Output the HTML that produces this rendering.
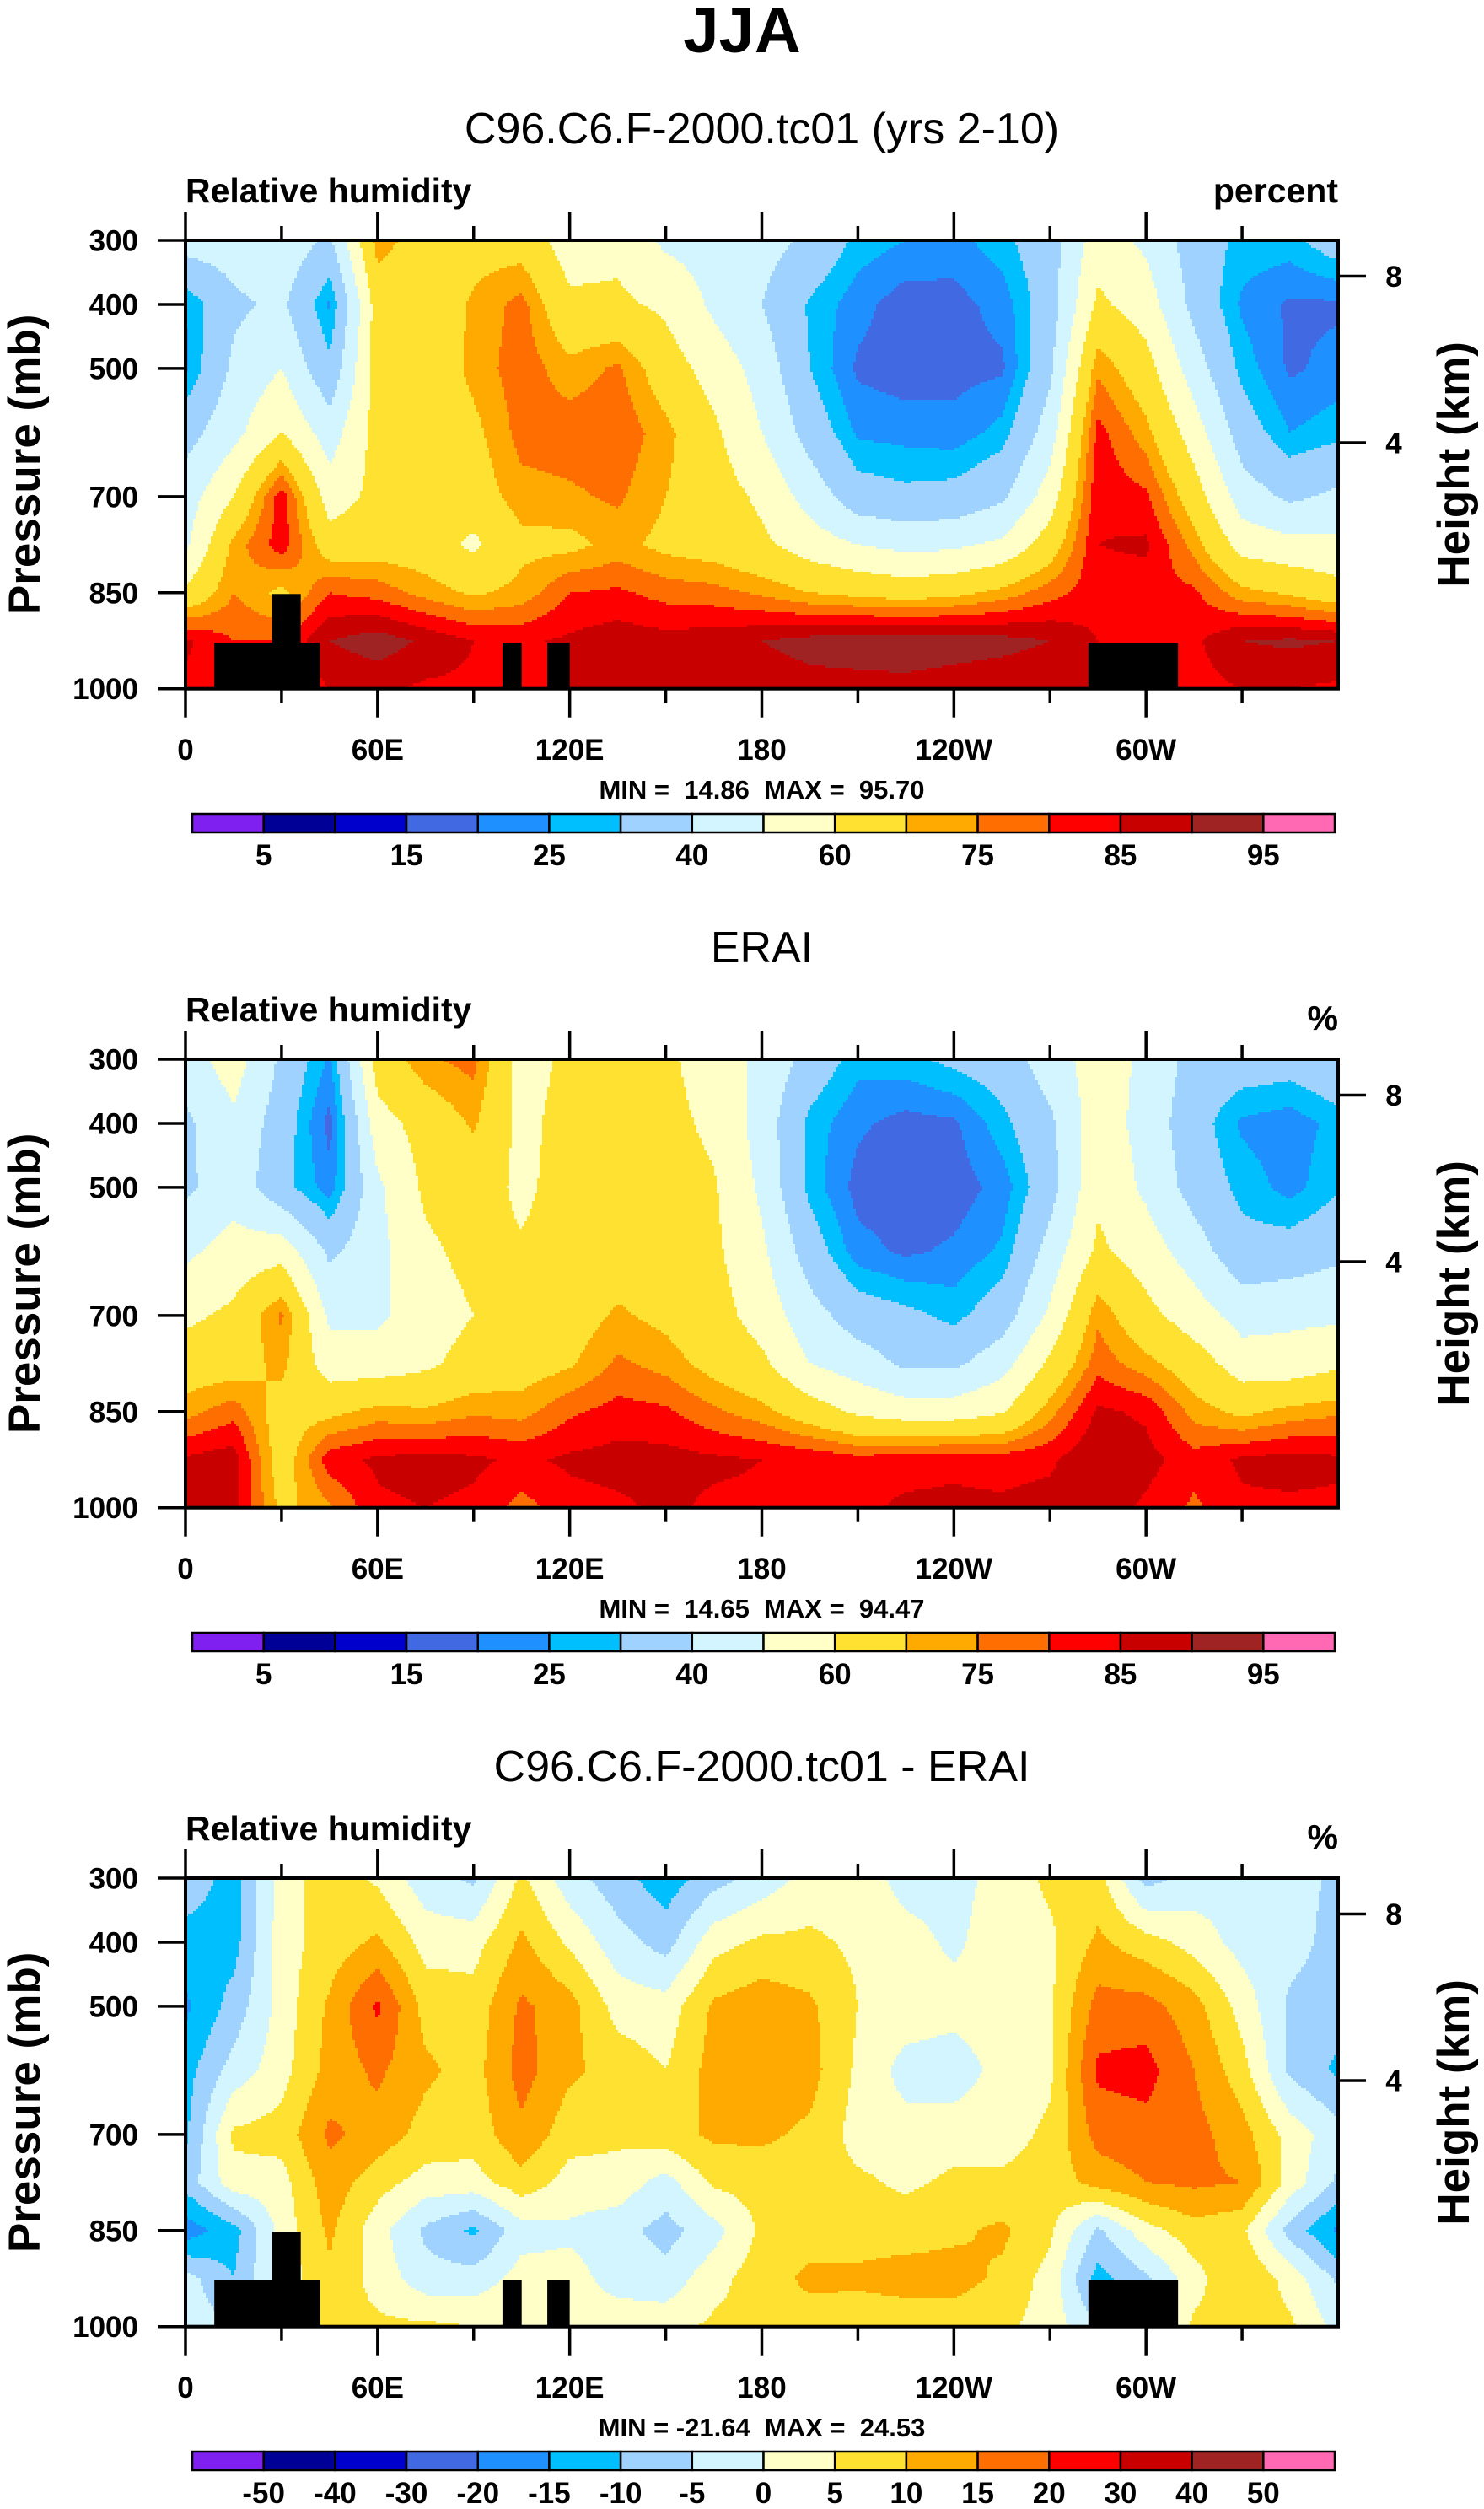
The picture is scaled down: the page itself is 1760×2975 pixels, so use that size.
<!DOCTYPE html>
<html><head><meta charset="utf-8"><title>JJA Relative humidity</title>
<style>
html,body{margin:0;padding:0;background:#fff;}
svg{display:block;}
text{font-family:"Liberation Sans",sans-serif;fill:#000;white-space:pre;}
</style></head>
<body>
<svg id="fig" xmlns="http://www.w3.org/2000/svg" width="1760" height="2975" viewBox="0 0 1760 2975">
<rect x="0" y="0" width="1760" height="2975" fill="#fff"/>
<text x="880" y="62" text-anchor="middle" font-size="76" font-weight="bold">JJA</text>
</svg>
<script>
// ---- data ----
const LONS = [0,15,30,45,60,75,90,105,120,135,150,165,180,195,210,225,240,255,270,285,300,315,330,345,360];
const PLEVS = [300,400,500,600,700,775,850,925,1000];
// values per longitude column, top (300mb) to bottom (1000mb)
const rhModel = [
[45,25,24,36,45,48,62,86,84],
[45,38,42,47,60,72,75,80,80],
[47,42,50,60,83,83,68,80,80],
[38,24,32,45,55,65,80,90,85],
[73,65,65,64,63,66,78,93,86],
[66,64,63,63,62,65,73,89,84],
[67,71,72,68,66,58,69,85,84],
[66,77,78,77,73,68,72,84,84],
[55,62,72,78,74,68,80,86,85],
[57,62,76,79,76,72,81,88,87],
[48,58,65,72,70,68,78,87,86],
[46,48,56,62,65,66,77,88,85],
[44,40,46,50,58,62,74,90,87],
[38,29,30,36,46,55,70,92,88],
[28,22,19,24,34,50,68,93,88],
[25,17,17,23,32,47,66,94,88],
[23,18,18,22,33,48,68,93,87],
[28,22,19,27,38,52,72,92,86],
[36,35,38,45,55,65,78,90,85],
[55,62,74,82,84,85,83,85,85],
[48,55,64,72,81,86,82,84,84],
[35,37,45,55,65,73,81,84,83],
[28,24,28,35,45,56,72,90,85],
[28,19,19,25,38,53,69,91,85],
[35,19,22,28,42,52,64,90,84]
];
const rhObs = [
[45,38,38,48,58,65,73,86,86],
[55,48,46,54,62,66,78,88,87],
[38,35,33,56,76,72,66,65,68],
[24,18,22,38,48,55,68,83,74],
[65,56,48,47,48,55,72,86,84],
[74,64,62,58,55,58,71,87,85],
[77,71,65,63,60,64,74,86,84],
[56,57,58,61,61,66,73,84,78],
[62,64,64,65,66,69,79,86,83],
[63,64,65,66,71,76,82,87,84],
[62,63,64,66,68,73,81,87,86],
[55,58,61,62,64,67,76,86,84],
[48,46,48,52,56,62,72,85,84],
[36,28,28,35,44,50,65,84,83],
[27,21,18,22,35,45,58,82,84],
[28,18,16,19,32,38,55,83,86],
[32,19,17,21,28,38,55,84,86],
[35,28,22,26,35,46,59,83,86],
[45,38,36,44,52,62,73,84,87],
[55,56,58,62,74,78,86,90,88],
[48,46,48,55,63,72,84,87,84],
[36,34,36,45,55,65,73,82,79],
[35,24,28,33,46,55,68,86,84],
[34,22,23,34,48,54,72,87,84],
[38,27,29,38,48,58,74,86,84]
];
const rhDiff = [
[-7,-12,-16,-12,-11,-8,-18,-3,-2],
[-12,-12,-8,-3,6,3,-12,-10,-5],
[2,3,2,3,7,3,2,2,2],
[8,7,11,12,16,13,11,9,7],
[4,11,21,16,13,7,2,3,6],
[-3,3,8,11,8,3,-6,-3,6],
[-6,3,7,8,7,3,-11,-3,5],
[6,11,16,17,14,8,-2,2,5],
[-3,4,12,11,7,3,-1,2,2],
[-8,-3,3,8,6,3,-3,-2,3],
[-13,-7,2,5,8,-2,-7,-3,3],
[-7,3,11,12,11,6,-2,3,6],
[-3,6,13,13,11,7,6,8,7],
[2,6,11,12,9,7,8,11,8],
[3,4,5,4,3,6,8,11,7],
[-2,2,3,-2,2,4,8,12,7],
[-2,-1,2,-3,3,6,9,12,7],
[2,3,3,2,3,6,11,9,6],
[6,4,4,4,6,7,6,3,3],
[7,11,17,21,17,12,-6,-12,-5],
[-7,7,17,22,18,15,3,-6,-3],
[-3,3,12,15,17,16,8,3,6],
[-2,-2,3,7,12,15,6,10,7],
[-3,-3,-6,-6,3,3,-7,3,6],
[-6,-7,-8,-11,-3,-6,-16,-6,-2]
];
const rhLevels = [5,10,15,20,25,30,40,50,60,70,75,80,85,90,95];
const diffLevels = [-50,-40,-30,-20,-15,-10,-5,0,5,10,15,20,30,40,50];
const rhLabels = ['','5','','15','','25','','40','','60','','75','','85','','95'];
const diffLabels = ['','-50','-40','-30','-20','-15','-10','-5','0','5','10','15','20','30','40','50'];
// land mask: [lonStart, lonEnd, topPressure]
const maskLonStart = [9,27,99,113,282];
const maskLonEnd = [42,36,105,120,310];
const maskTopP = [928,852,928,928,928];
const lonTickVals = [0,60,120,180,240,300];
const lonTickLabels = ['0','60E','120E','180','120W','60W'];
const presTickVals = [300,400,500,700,850,1000];
const heightTickVals = [8,4];
const heightTickP = [356,616];

const COLORS = ['#8020f0','#000096','#0000cd','#4169e1','#1e90ff','#00bfff','#a0d2ff','#d2f5ff','#ffffc8','#ffe132','#ffaa00','#ff6e00','#ff0000','#c80000','#a02323','#ff69b4'];

const NS = 'http://www.w3.org/2000/svg';
const svg = document.getElementById('fig');
const X0 = 220, X1 = 1587, PH = 531.7;

function el(tag, attrs, parent) {
  const e = document.createElementNS(NS, tag);
  for (const k in attrs) e.setAttribute(k, attrs[k]);
  (parent || svg).appendChild(e);
  return e;
}
function txt(str, x, y, size, weight, anchor, name, parent) {
  const t = el('text', {x: x, y: y, 'font-size': size, 'font-weight': weight, 'text-anchor': anchor}, parent);
  t.textContent = str;
  
  
  return t;
}
function interp(data, lon, p) {
  let i = Math.min(Math.floor(lon / 15), LONS.length - 2);
  const fx = (lon - LONS[i]) / (LONS[i + 1] - LONS[i]);
  let j = 0;
  while (j < PLEVS.length - 2 && p > PLEVS[j + 1]) j++;
  const fy = (p - PLEVS[j]) / (PLEVS[j + 1] - PLEVS[j]);
  const a = data[i][j], b = data[i + 1][j], c = data[i][j + 1], d = data[i + 1][j + 1];
  return (a * (1 - fx) + b * fx) * (1 - fy) + (c * (1 - fx) + d * fx) * fy;
}
function bin(v, levels) {
  let k = 0;
  while (k < levels.length && v >= levels[k]) k++;
  return k;
}

function drawPanel(idx, top, data, levels, subtitle, unit, unitDy, minmax, cbLabels, showMask) {
  const g = el('g', {});
  
  
  const xs = lon => X0 + lon / 360 * (X1 - X0);
  const ys = p => top + (p - 300) / 700 * PH;

  txt(subtitle, (X0 + X1) / 2, top - 115, 52, 'normal', 'middle', 'panel-title', g);
  txt('Relative humidity', X0, top - 45, 41, 'bold', 'start', 'variable-label', g);
  txt(unit, X1, top - 45 + unitDy, 41, 'bold', 'end', 'units-label', g);

  const fills = el('g', {}, g);
  
  
  const sx = 3, sy = 3;
  const nx = Math.ceil((X1 - X0) / sx), ny = Math.ceil(PH / sy);
  for (let r = 0; r < ny; r++) {
    const yy = top + r * sy;
    const p = 300 + ((r + 0.5) * sy) / PH * 700;
    let runStart = 0, runC = -1;
    for (let c = 0; c <= nx; c++) {
      let ci = -1;
      if (c < nx) {
        const lon = ((c + 0.5) * sx) / (X1 - X0) * 360;
        ci = bin(interp(data, Math.min(lon, 359.99), Math.min(p, 999.9)), levels);
      }
      if (ci !== runC) {
        if (runC >= 0) {
          const x = X0 + runStart * sx;
          const w = Math.min((c - runStart) * sx + 0.6, X1 - x);
          const h = Math.min(sy + 0.6, top + PH - yy);
          const rc = el('rect', {x: x, y: yy, width: w, height: h, fill: COLORS[runC]}, fills);
          
          
        }
        runStart = c; runC = ci;
      }
    }
  }
  if (showMask) {
    for (let m = 0; m < maskLonStart.length; m++) {
      const mr = el('rect', {x: xs(maskLonStart[m]), y: ys(maskTopP[m]), width: xs(maskLonEnd[m]) - xs(maskLonStart[m]), height: top + PH - ys(maskTopP[m]), fill: '#000'}, g);
      
      
    }
  }
  const frame = el('rect', {x: X0, y: top, width: X1 - X0, height: PH, fill: 'none', stroke: '#000', 'stroke-width': 4}, g);
  
  

  for (let lon = 0; lon < 360; lon += 30) {
    const major = lon % 60 === 0;
    const L = major ? 34 : 17;
    const tt = el('line', {x1: xs(lon), x2: xs(lon), y1: top - L, y2: top, stroke: '#000', 'stroke-width': 3.5}, g);
    
    
    const tb = el('line', {x1: xs(lon), x2: xs(lon), y1: top + PH, y2: top + PH + L, stroke: '#000', 'stroke-width': 3.5}, g);
    
    
  }
  for (let k = 0; k < lonTickVals.length; k++) {
    txt(lonTickLabels[k], xs(lonTickVals[k]), top + 616, 35, 'bold', 'middle', 'x-tick-label', g);
  }
  for (let k = 0; k < presTickVals.length; k++) {
    const ty = ys(presTickVals[k]);
    const tl = el('line', {x1: X0 - 33, x2: X0, y1: ty, y2: ty, stroke: '#000', 'stroke-width': 3.5}, g);
    
    
    txt(String(presTickVals[k]), 164, ty + 12.5, 35, 'bold', 'end', 'y-tick-label', g);
  }
  for (let k = 0; k < heightTickVals.length; k++) {
    const ty = ys(heightTickP[k]);
    const tr = el('line', {x1: X1, x2: X1 + 33, y1: ty, y2: ty, stroke: '#000', 'stroke-width': 3.5}, g);
    
    
    txt(String(heightTickVals[k]), 1653, ty + 12.5, 35, 'bold', 'middle', 'height-tick-label', g);
  }
  const cy = top + PH / 2;
  const yl = txt('Pressure (mb)', 0, 0, 53, 'bold', 'middle', 'y-axis-title', g);
  yl.setAttribute('transform', 'translate(47,' + cy + ') rotate(-90)');
  const hl = txt('Height (km)', 0, 0, 53, 'bold', 'middle', 'right-axis-title', g);
  hl.setAttribute('transform', 'translate(1742,' + cy + ') rotate(-90)');

  txt(minmax, (X0 + X1) / 2, top + 662, 31, 'bold', 'middle', 'min-max-label', g);

  const cb = el('g', {}, g);
  
  
  const cbx = 228, cbw = 1355 / 16, cby = top + 680;
  for (let k = 0; k < 16; k++) {
    const r = el('rect', {x: cbx + k * cbw, y: cby, width: cbw, height: 22, fill: COLORS[k], stroke: '#000', 'stroke-width': 2.5}, cb);
    
    
    if (cbLabels[k]) txt(cbLabels[k], cbx + k * cbw, top + 741, 35, 'bold', 'middle', 'colorbar-label', cb);
  }
}

drawPanel(0, 285, rhModel, rhLevels, 'C96.C6.F-2000.tc01 (yrs 2-10)', 'percent', 0, 'MIN =  14.86  MAX =  95.70', rhLabels, true);
drawPanel(1, 1256, rhObs, rhLevels, 'ERAI', '%', 10, 'MIN =  14.65  MAX =  94.47', rhLabels, false);
drawPanel(2, 2227, rhDiff, diffLevels, 'C96.C6.F-2000.tc01 - ERAI', '%', 10, 'MIN = -21.64  MAX =  24.53', diffLabels, true);
</script>
</body></html>
